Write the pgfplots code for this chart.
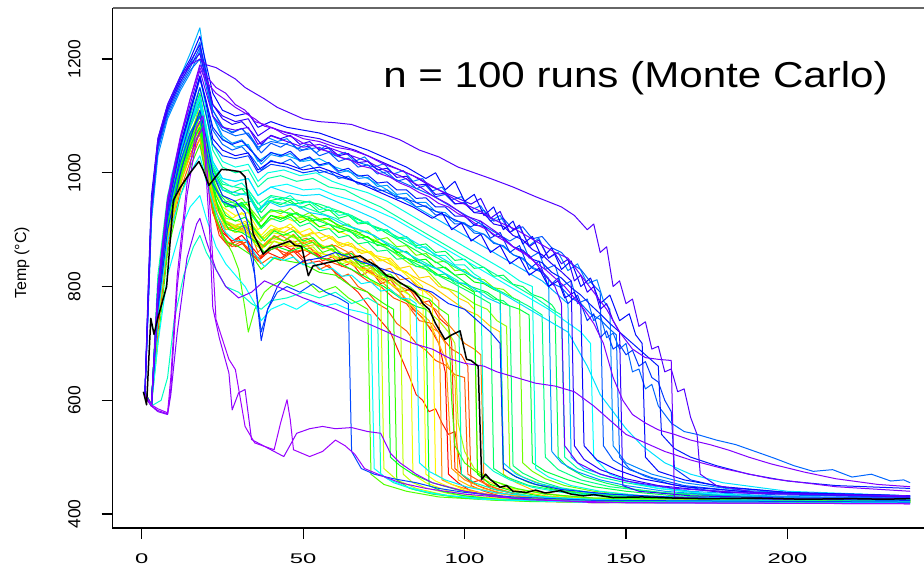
\documentclass[border=0pt]{standalone}
\usepackage{fontspec}
\setmainfont{Liberation Sans}
\usepackage{graphicx}
\usepackage{pgfplots}
\pgfplotsset{compat=1.18}
\definecolor{c000}{hsb}{0.00,1,1}
\definecolor{c020}{hsb}{0.02,1,1}
\definecolor{c030}{hsb}{0.03,1,1}
\definecolor{c050}{hsb}{0.05,1,1}
\definecolor{c060}{hsb}{0.06,1,1}
\definecolor{c080}{hsb}{0.08,1,1}
\definecolor{c090}{hsb}{0.09,1,1}
\definecolor{c100}{hsb}{0.10,1,1}
\definecolor{c120}{hsb}{0.12,1,1}
\definecolor{c130}{hsb}{0.13,1,1}
\definecolor{c140}{hsb}{0.14,1,1}
\definecolor{c160}{hsb}{0.16,1,1}
\definecolor{c170}{hsb}{0.17,1,1}
\definecolor{c180}{hsb}{0.18,1,1}
\definecolor{c200}{hsb}{0.20,1,1}
\definecolor{c210}{hsb}{0.21,1,1}
\definecolor{c220}{hsb}{0.22,1,1}
\definecolor{c240}{hsb}{0.24,1,1}
\definecolor{c260}{hsb}{0.26,1,1}
\definecolor{c280}{hsb}{0.28,1,1}
\definecolor{c290}{hsb}{0.29,1,1}
\definecolor{c300}{hsb}{0.30,1,1}
\definecolor{c320}{hsb}{0.32,1,1}
\definecolor{c330}{hsb}{0.33,1,1}
\definecolor{c350}{hsb}{0.35,1,1}
\definecolor{c360}{hsb}{0.36,1,1}
\definecolor{c380}{hsb}{0.38,1,1}
\definecolor{c390}{hsb}{0.39,1,1}
\definecolor{c400}{hsb}{0.40,1,1}
\definecolor{c410}{hsb}{0.41,1,1}
\definecolor{c420}{hsb}{0.42,1,1}
\definecolor{c440}{hsb}{0.44,1,1}
\definecolor{c450}{hsb}{0.45,1,1}
\definecolor{c460}{hsb}{0.46,1,1}
\definecolor{c470}{hsb}{0.47,1,1}
\definecolor{c480}{hsb}{0.48,1,1}
\definecolor{c500}{hsb}{0.50,1,1}
\definecolor{c510}{hsb}{0.51,1,1}
\definecolor{c520}{hsb}{0.52,1,1}
\definecolor{c530}{hsb}{0.53,1,1}
\definecolor{c550}{hsb}{0.55,1,1}
\definecolor{c570}{hsb}{0.57,1,1}
\definecolor{c580}{hsb}{0.58,1,1}
\definecolor{c600}{hsb}{0.60,1,1}
\definecolor{c610}{hsb}{0.61,1,1}
\definecolor{c620}{hsb}{0.62,1,1}
\definecolor{c630}{hsb}{0.63,1,1}
\definecolor{c640}{hsb}{0.64,1,1}
\definecolor{c650}{hsb}{0.65,1,1}
\definecolor{c660}{hsb}{0.66,1,1}
\definecolor{c670}{hsb}{0.67,1,1}
\definecolor{c690}{hsb}{0.69,1,1}
\definecolor{c700}{hsb}{0.70,1,1}
\definecolor{c720}{hsb}{0.72,1,1}
\definecolor{c730}{hsb}{0.73,1,1}
\definecolor{c740}{hsb}{0.74,1,1}
\definecolor{c750}{hsb}{0.75,1,1}
\definecolor{c760}{hsb}{0.76,1,1}
\definecolor{c770}{hsb}{0.77,1,1}
\begin{document}
\begin{tikzpicture}
\begin{axis}[name=ax, scale only axis, width=405.65pt, height=260pt,
  xmin=-9, xmax=242.3, ymin=375.4, ymax=1289.8,
  axis line style={draw=none}, clip mode=individual,
  xtick={0,50,100,150,200}, ytick={400,600,800,1000,1200},
  xtick pos=bottom, ytick pos=left, tick align=outside, major tick length=5.5pt,
  tick style={black, line width=0.6pt},
  /pgf/number format/assume math mode=true, /pgf/number format/1000 sep={},
  xticklabel={\scalebox{1.7}[1]{\pgfmathprintnumber{\tick}}},
  xticklabel style={yshift=-4pt, font=\fontsize{7}{8}\selectfont},
  yticklabel style={xshift=-7pt, rotate=90, font=\fontsize{8.75}{10}\selectfont},
  every axis plot/.append style={line width=0.5pt, line join=round, mark=none},
]
% --- red / orange ---
\addplot[c000] coordinates {(1,612)(3,592)(5,760)(8,900)(12,990)(15,1030)(18,1070)(20,1000)(22,930)(25,895)(28,880)(31,890)(34,870)(37,850)(40,865)(44,872)(48,860)(52,868)(56,850)(60,845)(64,858)(68,835)(72,820)(76,810)(80,790)(84,760)(87,745)(90,720)(92,700)(94,650)(95,470)(98,455)(102,440)(108,432)(115,425)(125,422)(140,420)(160,421)(200,420)(238,423)};
\addplot[c030] coordinates {(1,611)(3,591)(5,750)(8,890)(12,985)(15,1030)(18,1075)(20,1005)(22,935)(24,890)(27,870)(30,885)(33,862)(36,845)(38,860)(41,872)(44,855)(47,868)(50,850)(53,862)(56,845)(59,852)(62,835)(65,842)(68,820)(71,828)(74,805)(77,812)(80,790)(83,795)(86,770)(89,775)(92,745)(95,730)(96,700)(97,480)(99,470)(102,455)(105,460)(108,445)(112,440)(118,432)(126,427)(140,423)(238,423)};
\addplot[c020] coordinates {(1,615)(3,590)(4,680)(6,830)(9,940)(13,1020)(16,1060)(18,1090)(20,1020)(22,950)(25,900)(29,870)(33,880)(36,845)(39,860)(43,850)(47,862)(51,840)(55,845)(59,830)(63,810)(67,790)(71,760)(74,740)(77,720)(80,680)(83,640)(85,610)(87,600)(89,580)(91,585)(93,560)(95,540)(97,545)(99,470)(104,450)(110,438)(120,428)(140,423)(180,422)(238,425)};
\addplot[c060] coordinates {(1,613)(3,590)(5,730)(8,870)(12,970)(15,1020)(18,1060)(20,995)(22,930)(25,885)(28,870)(31,880)(34,858)(37,840)(40,852)(43,846)(46,858)(49,840)(52,848)(55,830)(58,838)(61,815)(64,822)(67,800)(70,790)(73,770)(76,760)(79,735)(82,722)(85,700)(88,688)(91,670)(94,662)(97,645)(100,640)(101,470)(104,460)(108,448)(114,438)(122,430)(135,425)(238,424)};
\addplot[c050] coordinates {(1,610)(3,595)(5,720)(8,880)(11,960)(14,1020)(17,1080)(19,1050)(21,960)(24,900)(27,875)(30,880)(33,868)(36,850)(40,870)(45,858)(50,865)(55,852)(60,840)(65,830)(70,810)(74,800)(78,780)(82,770)(86,740)(90,735)(93,710)(96,690)(99,680)(101,660)(102,450)(106,440)(112,430)(125,424)(150,421)(238,422)};
\addplot[c080] coordinates {(1,614)(3,590)(5,780)(8,920)(12,1000)(15,1050)(18,1100)(20,1030)(22,960)(25,920)(29,900)(33,905)(36,860)(39,880)(43,890)(47,878)(51,885)(55,870)(60,872)(64,860)(68,850)(72,830)(76,820)(80,800)(84,790)(88,770)(91,760)(94,740)(97,720)(100,700)(103,690)(105,680)(106,455)(110,445)(118,432)(130,426)(160,422)(238,424)};
\addplot[c090] coordinates {(1,612)(3,592)(6,830)(9,950)(13,1025)(16,1065)(18,1090)(20,1020)(23,945)(26,905)(29,895)(32,905)(35,880)(38,870)(41,890)(44,880)(47,892)(50,875)(53,882)(56,866)(59,874)(62,855)(65,862)(68,842)(71,848)(74,828)(77,832)(80,812)(83,815)(86,795)(89,790)(92,775)(93,460)(96,452)(100,445)(106,436)(115,428)(130,424)(238,423)};
\addplot[c100] coordinates {(1,612)(3,592)(6,850)(9,960)(13,1030)(16,1070)(18,1080)(20,1010)(23,940)(26,905)(30,900)(34,890)(37,870)(41,880)(46,870)(50,878)(54,860)(58,855)(62,850)(66,835)(70,830)(74,810)(78,790)(82,775)(86,750)(89,730)(92,720)(94,700)(96,480)(100,460)(106,445)(115,432)(130,425)(170,423)(238,425)};
\addplot[c130] coordinates {(1,610)(3,590)(5,740)(8,880)(12,980)(15,1040)(18,1070)(20,1010)(23,930)(26,900)(30,910)(34,900)(37,880)(41,900)(45,905)(50,890)(55,895)(60,880)(65,870)(70,860)(75,845)(80,830)(85,815)(90,800)(95,780)(100,760)(104,750)(108,730)(111,720)(112,470)(116,455)(122,440)(132,430)(150,425)(238,426)};
\addplot[c120] coordinates {(1,611)(3,592)(5,740)(8,880)(12,980)(15,1030)(18,1060)(20,1000)(23,930)(26,900)(30,905)(34,890)(37,870)(40,885)(45,880)(50,870)(55,875)(60,860)(65,845)(70,830)(75,815)(80,790)(85,760)(89,740)(92,700)(95,660)(97,640)(98,460)(102,448)(110,436)(125,427)(150,423)(238,422)};
\addplot[c140] coordinates {(1,610)(3,590)(5,770)(8,910)(12,1000)(15,1050)(18,1085)(20,1020)(23,950)(26,915)(29,905)(32,915)(35,895)(38,885)(41,902)(44,895)(47,905)(50,888)(53,896)(56,880)(59,888)(62,870)(65,876)(68,858)(71,862)(74,845)(77,850)(80,832)(83,836)(86,815)(89,818)(92,800)(95,795)(98,780)(101,772)(103,760)(104,470)(107,458)(111,448)(117,440)(125,432)(140,426)(238,424)};
% --- yellow / green ---
\addplot[c160] coordinates {(1,612)(3,592)(5,800)(8,940)(12,1020)(15,1070)(18,1110)(20,1050)(22,980)(25,940)(29,925)(33,930)(36,900)(39,915)(43,925)(47,915)(51,920)(55,905)(60,900)(64,890)(68,870)(72,855)(76,850)(80,830)(84,810)(88,790)(90,780)(91,470)(95,455)(100,442)(110,432)(125,425)(160,422)(238,423)};
\addplot[c170] coordinates {(1,612)(3,591)(5,790)(8,930)(12,1010)(15,1060)(18,1100)(20,1040)(22,975)(25,935)(28,920)(31,930)(34,910)(37,890)(40,908)(43,900)(46,910)(49,895)(52,902)(55,885)(58,890)(61,872)(64,878)(67,860)(70,862)(73,845)(76,848)(79,830)(82,826)(85,810)(87,800)(88,470)(91,458)(95,448)(102,438)(112,430)(128,425)(238,422)};
\addplot[c180] coordinates {(1,612)(3,590)(5,760)(8,900)(12,990)(15,1040)(18,1080)(20,1020)(23,950)(26,910)(30,900)(34,890)(37,865)(40,880)(45,875)(50,865)(55,860)(60,850)(65,840)(70,825)(75,810)(80,795)(83,785)(84,470)(88,455)(95,440)(105,430)(125,423)(238,420)};
\addplot[c200] coordinates {(1,615)(3,590)(4,700)(7,880)(11,990)(15,1060)(18,1090)(20,1030)(23,950)(26,920)(30,915)(34,905)(37,880)(40,895)(45,890)(50,880)(55,875)(60,860)(64,850)(68,830)(71,810)(74,800)(75,480)(79,460)(85,445)(95,432)(110,424)(140,420)(238,421)};
\addplot[c210] coordinates {(1,613)(3,590)(5,740)(8,890)(12,985)(15,1040)(18,1080)(20,1015)(23,945)(26,905)(29,895)(32,900)(35,875)(38,860)(41,880)(44,872)(47,880)(50,865)(53,870)(56,852)(59,858)(62,840)(65,845)(68,828)(71,832)(74,815)(77,818)(80,805)(81,470)(84,455)(88,446)(95,436)(105,428)(125,423)(238,421)};
\addplot[c220] coordinates {(1,613)(3,590)(5,760)(8,910)(12,1000)(15,1050)(18,1090)(20,1020)(23,950)(26,915)(30,905)(34,910)(37,885)(40,900)(44,895)(48,885)(52,890)(56,870)(60,865)(65,850)(70,835)(75,820)(80,800)(84,780)(88,760)(92,740)(95,720)(97,700)(98,560)(100,510)(103,480)(108,460)(115,445)(125,435)(140,428)(238,424)};
\addplot[c240] coordinates {(1,610)(3,594)(6,830)(9,950)(13,1030)(16,1080)(18,1120)(20,1060)(22,990)(25,950)(29,940)(33,945)(36,910)(39,930)(43,935)(48,920)(53,925)(58,910)(63,900)(68,890)(73,880)(78,860)(83,840)(88,830)(93,800)(98,790)(103,770)(107,760)(110,740)(113,730)(114,480)(118,465)(125,450)(135,438)(150,430)(180,425)(238,426)};
\addplot[c260] coordinates {(1,611)(3,592)(5,800)(8,940)(12,1030)(15,1080)(18,1120)(20,1060)(22,995)(25,960)(28,948)(31,955)(34,935)(37,915)(40,935)(43,928)(46,938)(49,922)(52,930)(55,915)(58,920)(61,905)(64,910)(67,895)(70,898)(73,882)(76,886)(79,870)(82,872)(85,855)(88,858)(91,842)(94,845)(97,828)(100,830)(103,815)(106,812)(109,798)(112,795)(115,780)(117,775)(118,490)(121,475)(125,462)(131,450)(140,440)(155,432)(180,427)(238,425)};
\addplot[c280] coordinates {(1,612)(3,590)(5,760)(8,900)(12,990)(15,1040)(18,1070)(20,1010)(22,940)(25,890)(28,860)(30,830)(32,760)(33,720)(35,760)(38,790)(40,800)(43,810)(47,800)(51,810)(55,790)(60,800)(64,780)(67,770)(70,760)(71,470)(75,452)(82,440)(92,430)(110,424)(150,420)(238,421)};
\addplot[c290] coordinates {(1,612)(3,590)(5,760)(8,905)(12,995)(15,1045)(18,1080)(20,1020)(23,950)(26,912)(29,900)(32,908)(35,885)(38,870)(41,888)(44,880)(47,890)(50,872)(53,878)(56,860)(59,866)(62,848)(65,852)(68,835)(71,838)(74,820)(77,822)(80,805)(83,800)(86,785)(89,778)(92,762)(95,750)(96,600)(97,520)(100,490)(104,472)(109,458)(116,445)(125,435)(140,428)(238,423)};
\addplot[c300] coordinates {(1,611)(3,593)(5,700)(8,860)(12,960)(15,1010)(18,1050)(20,990)(23,920)(26,880)(30,870)(34,855)(37,830)(41,850)(45,845)(50,840)(55,825)(60,820)(65,800)(70,790)(75,770)(78,760)(79,460)(83,445)(90,435)(100,428)(120,422)(160,420)(238,420)};
\addplot[c320] coordinates {(1,614)(3,592)(5,780)(8,930)(12,1010)(15,1060)(18,1100)(20,1040)(23,970)(26,940)(30,945)(34,930)(37,905)(40,925)(44,920)(48,930)(52,915)(57,920)(62,905)(67,895)(72,880)(77,870)(82,850)(87,840)(92,820)(97,810)(100,800)(103,790)(104,470)(108,452)(115,440)(125,430)(145,424)(238,422)};
\addplot[c330] coordinates {(1,610)(3,591)(5,790)(8,935)(12,1020)(15,1070)(18,1105)(20,1045)(22,985)(25,950)(28,940)(31,948)(34,928)(37,905)(40,925)(43,918)(46,928)(49,912)(52,920)(55,905)(58,910)(61,895)(64,900)(67,885)(70,888)(73,872)(76,875)(79,860)(82,862)(85,846)(88,848)(91,832)(94,834)(97,820)(100,822)(103,808)(106,805)(109,795)(111,790)(112,480)(115,468)(120,455)(128,443)(138,435)(155,428)(238,424)};
\addplot[c350] coordinates {(1,610)(3,590)(6,820)(9,950)(13,1020)(16,1060)(18,1080)(21,1000)(24,930)(27,900)(31,895)(35,880)(38,860)(42,870)(46,862)(50,870)(55,850)(60,845)(65,830)(70,815)(75,800)(80,780)(85,765)(88,760)(89,450)(93,440)(100,432)(110,426)(140,422)(238,420)};
\addplot[c360] coordinates {(1,612)(3,592)(5,770)(8,915)(12,1005)(15,1055)(18,1090)(20,1030)(23,960)(26,925)(29,915)(32,922)(35,900)(38,880)(41,898)(44,890)(47,898)(50,880)(53,886)(56,868)(59,872)(62,855)(65,858)(68,840)(71,842)(74,825)(76,815)(77,500)(80,485)(84,470)(90,455)(98,442)(108,432)(125,425)(238,421)};
\addplot[c380] coordinates {(1,612)(3,591)(5,800)(8,950)(12,1040)(15,1090)(18,1140)(20,1080)(22,1010)(25,970)(29,960)(33,965)(36,935)(39,950)(43,955)(47,945)(52,950)(57,935)(62,930)(68,915)(74,900)(80,880)(86,860)(92,840)(97,820)(102,800)(107,790)(112,770)(117,760)(120,750)(121,490)(125,475)(132,460)(140,448)(150,440)(165,432)(190,427)(238,425)};
\addplot[c390] coordinates {(1,613)(3,590)(5,790)(8,945)(12,1035)(15,1085)(18,1125)(20,1065)(22,1005)(25,975)(28,965)(31,972)(34,952)(37,930)(40,950)(43,944)(46,952)(49,938)(52,945)(55,930)(58,935)(61,920)(64,925)(67,910)(70,912)(73,898)(76,900)(79,885)(82,888)(85,872)(88,875)(91,860)(94,862)(97,846)(100,848)(103,832)(106,834)(109,818)(112,820)(115,804)(118,800)(121,786)(124,780)(127,768)(128,760)(129,500)(132,482)(137,466)(144,454)(152,444)(165,435)(190,429)(238,426)};
\addplot[c400] coordinates {(1,612)(3,590)(5,780)(8,930)(12,1020)(15,1070)(18,1100)(20,1040)(23,970)(26,950)(30,945)(34,950)(37,920)(40,935)(45,930)(50,925)(55,915)(60,905)(65,895)(70,880)(75,870)(80,855)(85,840)(90,825)(95,810)(100,795)(105,780)(108,770)(109,480)(113,465)(120,450)(130,440)(145,432)(170,427)(238,424)};
\addplot[c410] coordinates {(1,611)(3,592)(5,770)(8,925)(12,1015)(15,1065)(18,1100)(20,1040)(22,980)(25,948)(28,938)(31,945)(34,925)(37,902)(40,920)(43,914)(46,922)(49,906)(52,912)(55,898)(58,902)(61,886)(64,890)(67,875)(70,878)(73,862)(76,864)(79,848)(82,850)(85,835)(88,836)(91,820)(94,822)(97,806)(100,806)(103,792)(106,790)(109,778)(112,775)(114,765)(115,485)(118,472)(123,458)(130,446)(140,437)(160,429)(238,425)};
\addplot[c420] coordinates {(1,611)(3,592)(5,800)(8,950)(12,1040)(15,1090)(18,1130)(20,1070)(22,1010)(25,980)(29,975)(33,970)(36,945)(40,960)(45,955)(50,950)(55,945)(60,935)(65,925)(70,910)(75,900)(80,885)(85,870)(90,855)(95,840)(100,825)(105,810)(110,795)(115,780)(120,765)(124,750)(125,500)(129,478)(136,460)(145,448)(160,438)(190,430)(238,427)};
% --- cyan ---
\addplot[c440] coordinates {(1,612)(3,592)(5,820)(8,960)(12,1050)(15,1100)(18,1150)(20,1100)(22,1040)(25,1010)(29,1000)(33,1005)(36,975)(39,990)(43,995)(48,985)(53,990)(58,975)(63,970)(68,955)(74,940)(80,920)(86,900)(92,880)(98,860)(104,840)(110,820)(116,800)(122,780)(127,760)(130,750)(131,500)(135,480)(142,465)(150,455)(160,445)(175,435)(200,428)(238,426)};
\addplot[c450] coordinates {(1,613)(3,591)(5,800)(8,950)(12,1040)(15,1090)(18,1120)(20,1060)(22,1000)(25,970)(29,960)(33,965)(36,935)(40,950)(45,945)(50,940)(55,930)(60,920)(65,905)(70,895)(75,880)(80,865)(85,850)(90,835)(95,820)(98,810)(99,470)(103,455)(110,442)(120,432)(140,425)(238,422)};
\addplot[c460] coordinates {(1,608)(3,590)(6,600)(8,640)(10,740)(13,820)(16,870)(18,890)(20,860)(23,830)(26,800)(30,790)(34,770)(37,760)(40,775)(45,780)(50,790)(55,780)(60,790)(65,770)(70,780)(73,770)(74,470)(78,455)(85,442)(95,432)(115,424)(238,420)};
\addplot[c470] coordinates {(1,612)(3,590)(5,800)(8,950)(12,1045)(15,1095)(18,1135)(20,1075)(22,1015)(25,985)(28,975)(31,982)(34,962)(37,940)(40,958)(43,952)(46,960)(49,945)(52,950)(55,935)(58,940)(61,925)(64,928)(67,912)(70,914)(73,898)(76,900)(79,884)(82,885)(85,868)(88,870)(91,854)(94,855)(97,838)(100,838)(103,822)(105,815)(106,490)(109,475)(114,460)(121,447)(130,438)(145,430)(238,425)};
\addplot[c480] coordinates {(1,610)(3,590)(6,850)(9,990)(13,1080)(16,1130)(18,1170)(20,1110)(22,1050)(25,1020)(29,1010)(33,1015)(36,985)(39,1000)(44,1005)(49,995)(54,1000)(59,985)(64,975)(70,965)(76,950)(82,930)(88,910)(94,890)(100,870)(106,850)(112,830)(117,810)(121,800)(122,480)(126,465)(133,450)(142,440)(155,432)(180,427)(238,424)};
\addplot[c500] coordinates {(1,614)(3,591)(5,700)(8,820)(12,900)(15,940)(18,960)(20,920)(23,870)(26,840)(29,820)(32,800)(35,770)(37,740)(40,760)(44,770)(48,760)(52,775)(56,765)(60,770)(64,760)(68,755)(71,750)(72,480)(76,462)(82,448)(90,436)(105,426)(140,420)(238,419)};
\addplot[c510] coordinates {(1,611)(3,591)(5,750)(8,880)(12,960)(15,1000)(18,1030)(20,985)(23,930)(26,895)(29,880)(32,882)(35,858)(38,835)(41,852)(44,846)(47,852)(50,838)(53,842)(56,828)(59,832)(62,818)(65,820)(68,805)(71,808)(74,792)(77,795)(80,780)(83,778)(85,770)(86,490)(89,475)(94,460)(101,447)(110,437)(125,429)(150,424)(238,421)};
\addplot[c500] coordinates {(1,611)(3,592)(5,790)(8,940)(12,1040)(15,1090)(18,1130)(20,1080)(22,1020)(25,990)(29,985)(33,990)(36,960)(40,975)(45,980)(50,970)(55,972)(60,960)(66,950)(72,935)(78,920)(84,900)(90,880)(96,860)(102,840)(108,820)(114,800)(120,780)(126,760)(131,740)(136,720)(139,700)(140,500)(145,470)(152,455)(160,445)(175,436)(200,430)(238,428)};
\addplot[c520] coordinates {(1,612)(3,590)(5,780)(8,940)(12,1040)(15,1090)(18,1130)(20,1075)(22,1020)(25,990)(29,985)(33,990)(36,960)(40,975)(45,965)(50,960)(55,962)(60,950)(66,935)(72,920)(78,900)(84,880)(90,860)(96,840)(102,820)(108,800)(114,780)(120,760)(126,740)(132,720)(138,660)(142,610)(146,580)(150,550)(155,520)(162,490)(170,470)(180,455)(200,440)(238,432)};
\addplot[c530] coordinates {(1,612)(3,590)(5,760)(8,920)(12,1020)(15,1080)(18,1120)(20,1060)(22,1000)(25,970)(29,965)(33,960)(36,930)(39,950)(43,940)(47,945)(52,930)(57,925)(62,910)(67,900)(72,890)(77,870)(82,860)(87,840)(92,830)(97,810)(102,800)(107,780)(111,770)(112,490)(116,470)(122,455)(130,445)(140,436)(160,430)(238,425)};
\addplot[c550] coordinates {(1,614)(2,760)(3,920)(5,1040)(8,1110)(12,1170)(15,1210)(18,1255)(20,1180)(22,1100)(25,1060)(29,1045)(33,1050)(36,1020)(40,1035)(45,1030)(50,1020)(55,1025)(60,1010)(65,1000)(70,990)(76,970)(82,950)(88,930)(94,910)(100,890)(106,870)(112,850)(118,830)(124,810)(128,790)(132,770)(133,500)(137,480)(145,465)(155,452)(170,440)(200,430)(238,427)};
\addplot[c570] coordinates {(1,613)(2,760)(3,915)(5,1030)(8,1095)(12,1145)(15,1175)(18,1215)(20,1160)(22,1100)(25,1065)(28,1052)(31,1058)(34,1040)(37,1015)(40,1032)(43,1028)(46,1034)(49,1020)(52,1026)(55,1012)(58,1016)(61,1000)(64,1004)(67,990)(70,992)(73,976)(76,978)(79,962)(82,964)(85,948)(88,948)(91,932)(94,930)(97,915)(100,912)(103,898)(106,892)(109,878)(112,870)(115,856)(118,848)(121,834)(124,826)(126,815)(127,510)(130,490)(135,474)(142,460)(150,450)(162,440)(180,432)(238,428)};
% --- blue ---
\addplot[c580] coordinates {(1,612)(2,780)(3,940)(5,1050)(8,1110)(12,1160)(15,1190)(18,1230)(20,1170)(22,1110)(25,1080)(28,1072)(31,1078)(34,1060)(36,1040)(39,1062)(42,1055)(45,1060)(48,1042)(51,1050)(54,1035)(57,1048)(60,1030)(63,1036)(66,1020)(69,1028)(72,1010)(75,1016)(78,998)(81,1004)(84,985)(87,990)(90,968)(93,975)(96,952)(99,958)(102,935)(105,942)(108,915)(111,925)(114,895)(117,905)(120,872)(123,885)(126,850)(129,860)(132,828)(135,840)(138,805)(141,812)(143,775)(145,760)(146,520)(150,490)(158,470)(168,455)(185,442)(210,434)(238,430)};
\addplot[c600] coordinates {(1,613)(2,770)(3,930)(5,1040)(8,1100)(12,1150)(15,1180)(18,1200)(20,1150)(22,1100)(25,1075)(29,1065)(33,1070)(36,1045)(40,1055)(45,1050)(50,1040)(55,1045)(60,1030)(66,1020)(72,1010)(78,990)(84,975)(90,960)(96,940)(102,920)(108,900)(114,880)(117,890)(120,850)(123,860)(125,830)(128,838)(130,800)(133,810)(135,770)(138,778)(140,740)(142,750)(144,710)(146,718)(148,690)(150,700)(152,650)(154,655)(156,620)(158,628)(160,590)(164,560)(168,545)(172,540)(178,530)(184,522)(190,510)(196,498)(202,485)(208,475)(214,478)(220,465)(226,470)(232,458)(236,460)(238,455)};
\addplot[c600] coordinates {(1,612)(3,591)(5,790)(8,945)(12,1050)(15,1110)(18,1170)(20,1125)(22,1075)(25,1050)(28,1040)(31,1046)(34,1028)(37,1005)(40,1022)(43,1016)(46,1024)(49,1008)(52,1014)(55,1000)(58,1004)(61,990)(64,994)(67,980)(70,982)(73,968)(76,970)(79,955)(82,956)(85,940)(88,942)(91,926)(94,926)(97,910)(100,910)(103,894)(106,892)(109,876)(112,872)(115,856)(118,850)(121,832)(124,825)(127,806)(130,798)(133,780)(136,770)(139,752)(142,742)(145,725)(147,715)(148,500)(151,480)(156,466)(164,452)(175,442)(195,434)(238,429)};
\addplot[c610] coordinates {(1,612)(2,770)(3,930)(5,1045)(8,1105)(12,1155)(15,1185)(18,1220)(20,1165)(22,1110)(25,1082)(28,1070)(31,1078)(34,1058)(37,1035)(40,1052)(43,1045)(46,1055)(49,1038)(52,1045)(55,1030)(58,1036)(61,1020)(64,1026)(67,1010)(70,1014)(73,998)(76,1002)(79,985)(82,990)(85,972)(88,978)(91,958)(94,962)(97,945)(100,948)(103,930)(106,934)(109,915)(112,920)(115,900)(118,905)(121,884)(124,888)(127,868)(130,860)(133,840)(136,830)(139,808)(142,790)(143,520)(146,495)(151,478)(158,464)(168,450)(185,440)(210,433)(238,430)};
\addplot[c620] coordinates {(1,610)(3,592)(5,790)(8,930)(12,1020)(15,1070)(18,1100)(20,1040)(22,980)(25,950)(29,940)(32,900)(35,820)(37,720)(39,760)(42,790)(45,800)(49,790)(53,805)(57,790)(61,780)(64,770)(65,510)(68,480)(72,470)(78,462)(85,455)(92,445)(100,438)(115,430)(140,424)(238,421)};
\addplot[c630] coordinates {(1,612)(3,590)(5,770)(8,920)(12,1030)(15,1090)(18,1150)(20,1100)(22,1050)(25,1030)(29,1025)(33,1030)(36,1000)(40,1015)(45,1010)(50,1000)(55,1005)(60,995)(66,985)(72,975)(78,960)(84,950)(90,935)(96,920)(102,905)(105,915)(108,885)(111,895)(114,860)(117,872)(120,830)(123,845)(126,800)(129,815)(132,770)(135,785)(138,740)(140,752)(142,710)(144,722)(146,690)(148,698)(150,680)(152,688)(154,660)(156,668)(158,640)(160,632)(162,600)(164,580)(165,480)(170,460)(180,447)(200,438)(238,432)};
\addplot[c640] coordinates {(1,612)(3,590)(5,760)(8,900)(12,1000)(15,1060)(18,1110)(20,1060)(22,1000)(25,960)(29,950)(32,930)(34,880)(36,760)(37,705)(39,760)(42,800)(46,830)(50,845)(55,850)(60,860)(65,850)(70,840)(75,830)(80,820)(85,800)(90,790)(95,770)(100,760)(104,740)(108,720)(111,700)(112,480)(116,465)(122,452)(130,443)(145,435)(170,428)(238,424)};
\addplot[c650] coordinates {(1,611)(3,590)(5,780)(8,935)(12,1045)(15,1105)(18,1165)(20,1125)(22,1080)(25,1058)(28,1050)(31,1056)(34,1038)(37,1020)(40,1036)(43,1030)(46,1038)(49,1022)(52,1028)(55,1014)(58,1018)(61,1003)(64,1008)(67,994)(70,996)(73,982)(76,984)(79,970)(82,970)(85,955)(88,956)(91,940)(94,940)(97,924)(100,924)(103,908)(106,906)(109,890)(112,886)(115,870)(118,864)(121,848)(124,842)(127,825)(130,815)(133,798)(136,785)(139,768)(142,752)(145,735)(148,720)(151,705)(154,690)(157,675)(160,660)(161,540)(165,515)(170,500)(178,485)(188,470)(200,458)(215,450)(238,445)};
\addplot[c660] coordinates {(1,614)(2,800)(3,960)(5,1060)(8,1120)(12,1170)(15,1200)(18,1240)(20,1190)(22,1140)(25,1110)(29,1100)(33,1105)(36,1080)(40,1090)(45,1080)(50,1075)(55,1070)(60,1060)(65,1050)(70,1040)(76,1025)(82,1010)(88,990)(91,1000)(94,970)(97,985)(100,950)(103,962)(106,925)(109,940)(112,900)(115,915)(118,875)(121,888)(124,850)(127,868)(130,830)(133,845)(136,800)(139,815)(142,770)(145,785)(148,740)(151,752)(153,715)(155,700)(156,500)(160,475)(168,460)(180,448)(200,438)(238,432)};
\addplot[c670] coordinates {(1,611)(3,592)(5,800)(8,950)(12,1050)(15,1110)(18,1170)(20,1120)(22,1060)(25,1040)(29,1030)(33,1035)(36,1005)(40,1020)(45,1015)(50,1005)(55,1010)(60,1000)(66,985)(72,970)(78,955)(84,940)(90,920)(93,930)(96,900)(99,912)(102,880)(105,892)(108,860)(111,872)(114,840)(117,852)(120,820)(123,832)(126,800)(129,810)(131,780)(134,790)(136,765)(137,520)(141,495)(147,478)(155,462)(168,448)(190,438)(238,432)};
\addplot[c690] coordinates {(1,612)(2,780)(3,945)(5,1055)(8,1115)(12,1165)(15,1195)(18,1225)(20,1175)(22,1120)(25,1095)(28,1085)(31,1090)(34,1072)(37,1050)(40,1066)(43,1060)(46,1066)(49,1050)(52,1055)(55,1040)(58,1044)(61,1030)(64,1034)(67,1018)(70,1020)(73,1005)(76,1008)(79,992)(82,994)(85,978)(88,980)(91,962)(94,964)(97,946)(100,946)(103,930)(106,928)(109,910)(112,906)(115,890)(118,882)(121,865)(124,856)(127,840)(130,826)(133,810)(134,520)(137,496)(142,478)(150,462)(160,450)(180,438)(238,430)};
% --- violet ---
\addplot[c700] coordinates {(1,612)(2,770)(3,940)(5,1050)(8,1110)(12,1160)(15,1190)(18,1210)(20,1160)(22,1120)(25,1100)(29,1090)(33,1095)(36,1065)(40,1080)(45,1070)(50,1065)(55,1060)(60,1050)(66,1040)(72,1025)(78,1010)(84,995)(90,975)(96,960)(102,945)(105,955)(108,920)(111,932)(114,895)(117,908)(120,870)(123,882)(126,850)(128,858)(130,840)(132,848)(134,810)(136,820)(138,790)(140,800)(142,760)(144,770)(146,740)(148,720)(149,450)(154,440)(170,432)(200,428)(238,428)};
\addplot[c730] coordinates {(1,612)(3,591)(5,790)(8,950)(12,1060)(15,1120)(18,1180)(20,1140)(22,1100)(25,1080)(29,1075)(33,1080)(36,1050)(40,1065)(45,1055)(50,1045)(55,1050)(60,1040)(65,1030)(70,1020)(75,1005)(80,995)(85,980)(90,960)(95,945)(100,925)(105,915)(110,895)(115,870)(120,855)(125,820)(128,800)(130,770)(131,520)(135,490)(142,470)(150,458)(165,445)(190,436)(238,432)};
\addplot[c720] coordinates {(1,612)(2,790)(3,950)(5,1060)(8,1120)(12,1170)(15,1190)(18,1200)(20,1190)(23,1185)(26,1175)(29,1165)(32,1150)(35,1140)(38,1130)(42,1115)(46,1105)(50,1095)(55,1090)(60,1088)(65,1085)(70,1075)(75,1068)(80,1058)(86,1040)(92,1028)(98,1010)(103,1000)(108,990)(115,975)(122,958)(130,940)(134,925)(138,900)(140,910)(142,860)(144,870)(146,800)(148,810)(150,770)(152,778)(154,730)(156,738)(158,690)(160,695)(162,650)(164,655)(166,615)(168,620)(170,570)(172,540)(173,470)(178,450)(190,438)(238,430)};
\addplot[c740] coordinates {(1,610)(3,590)(5,780)(8,940)(12,1060)(15,1130)(18,1190)(20,1170)(23,1150)(26,1140)(29,1120)(32,1110)(35,1090)(38,1085)(42,1075)(46,1070)(50,1060)(55,1055)(60,1045)(65,1040)(70,1030)(75,1015)(80,1005)(86,990)(92,970)(98,950)(104,935)(110,915)(116,900)(122,880)(128,860)(132,850)(136,820)(140,790)(144,760)(148,720)(152,690)(156,675)(160,672)(164,670)(165,430)(170,428)(200,426)(238,427)};
\addplot[c750] coordinates {(1,611)(3,591)(5,800)(8,955)(12,1065)(15,1130)(18,1185)(20,1160)(23,1140)(26,1128)(29,1115)(32,1105)(35,1095)(38,1082)(41,1078)(44,1068)(47,1062)(50,1052)(53,1048)(56,1040)(59,1036)(62,1026)(65,1022)(68,1012)(71,1008)(74,998)(77,992)(80,982)(83,975)(86,965)(89,958)(92,946)(95,940)(98,928)(101,920)(104,908)(107,900)(110,888)(113,878)(116,866)(119,856)(122,842)(125,830)(128,815)(131,800)(134,780)(137,760)(140,735)(143,700)(146,640)(149,600)(152,575)(156,560)(160,548)(165,540)(170,530)(176,522)(182,512)(188,500)(195,488)(205,474)(215,462)(228,452)(238,448)};
\addplot[c750] coordinates {(1,606)(3,590)(5,580)(8,575)(9,610)(11,720)(14,850)(17,910)(18,920)(20,880)(23,830)(26,800)(30,780)(34,790)(38,810)(42,800)(46,790)(50,780)(55,770)(60,760)(66,745)(72,730)(78,715)(84,700)(90,690)(96,672)(100,665)(106,660)(110,650)(116,640)(122,630)(128,625)(134,615)(140,590)(146,560)(150,540)(156,525)(162,510)(170,495)(180,480)(195,462)(215,448)(238,440)};
\addplot[c760] coordinates {(1,606)(3,590)(5,582)(8,576)(9,620)(11,800)(14,960)(17,1060)(19,1080)(21,900)(22,763)(24,710)(27,648)(28,583)(30,613)(32,619)(34,531)(38,519)(44,501)(48,542)(52,550)(56,554)(60,550)(65,552)(70,545)(74,542)(77,507)(80,490)(85,470)(90,455)(100,440)(115,428)(140,420)(238,418)};
\addplot[c770] coordinates {(1,608)(3,592)(5,585)(8,578)(9,640)(11,820)(14,980)(17,1080)(19,1100)(21,950)(23,742)(27,672)(29,654)(32,554)(35,525)(41,513)(43,560)(45,601)(46,566)(47,513)(52,501)(56,510)(60,530)(63,520)(66,505)(69,480)(74,468)(80,455)(88,445)(100,435)(120,425)(150,420)(238,418)};
% --- black reference run ---
\addplot[black, line width=0.75pt] coordinates {(0.5,615)(1.5,592)(2.8,744)(3.8,716)(5,745)(7.7,800)(9.8,952)(12,975)(15,1000)(17.7,1020)(19,1005)(20.8,978)(22.5,990)(24.7,1006)(27,1005)(30.4,1002)(32,993)(34.5,893)(37.6,857)(39.7,868)(42,872)(45.9,880)(47.5,872)(49.5,871)(51.6,819)(53,836)(56,840)(60,845)(64,850)(67.6,854)(70,845)(72.8,836)(75.9,819)(78,815)(80,807)(82,800)(84.6,790)(86,780)(87.2,769)(89,760)(91,735)(93.9,707)(96,715)(98.6,722)(100.6,672)(102,670)(104.2,660)(105.3,461)(106.5,470)(107.9,461)(111,447)(113,450)(115,440)(119.2,438)(122,442)(125,437)(129.6,441)(133,435)(136.8,432)(140,434)(146,429)(155,430)(165,428)(175,427)(190,428)(205,426)(220,427)(230,426)(238,427)};
% --- frame (left, bottom, top) ---
\draw[black, line width=0.7pt] (rel axis cs:0,1) -- (rel axis cs:0,0) -- (rel axis cs:1,0);
\draw[black!60, line width=0.6pt] (rel axis cs:0,1) -- (rel axis cs:1,1);
\node[anchor=base east, inner sep=0pt, font=\fontsize{18}{20}\selectfont] at (axis cs:231.2,1150.5) {\scalebox{1.17}[1]{n = 100 runs (Monte Carlo)}};
\node[rotate=90, inner sep=0pt, font=\fontsize{8}{9}\selectfont] at ([xshift=-45.3pt]rel axis cs:0,0.51) {Temp (°C)};
\end{axis}
\pgfresetboundingbox
\path[use as bounding box] ([xshift=-56.35pt,yshift=-18.85pt]ax.south west) rectangle ([yshift=4pt]ax.north east);
\end{tikzpicture}
\end{document}
